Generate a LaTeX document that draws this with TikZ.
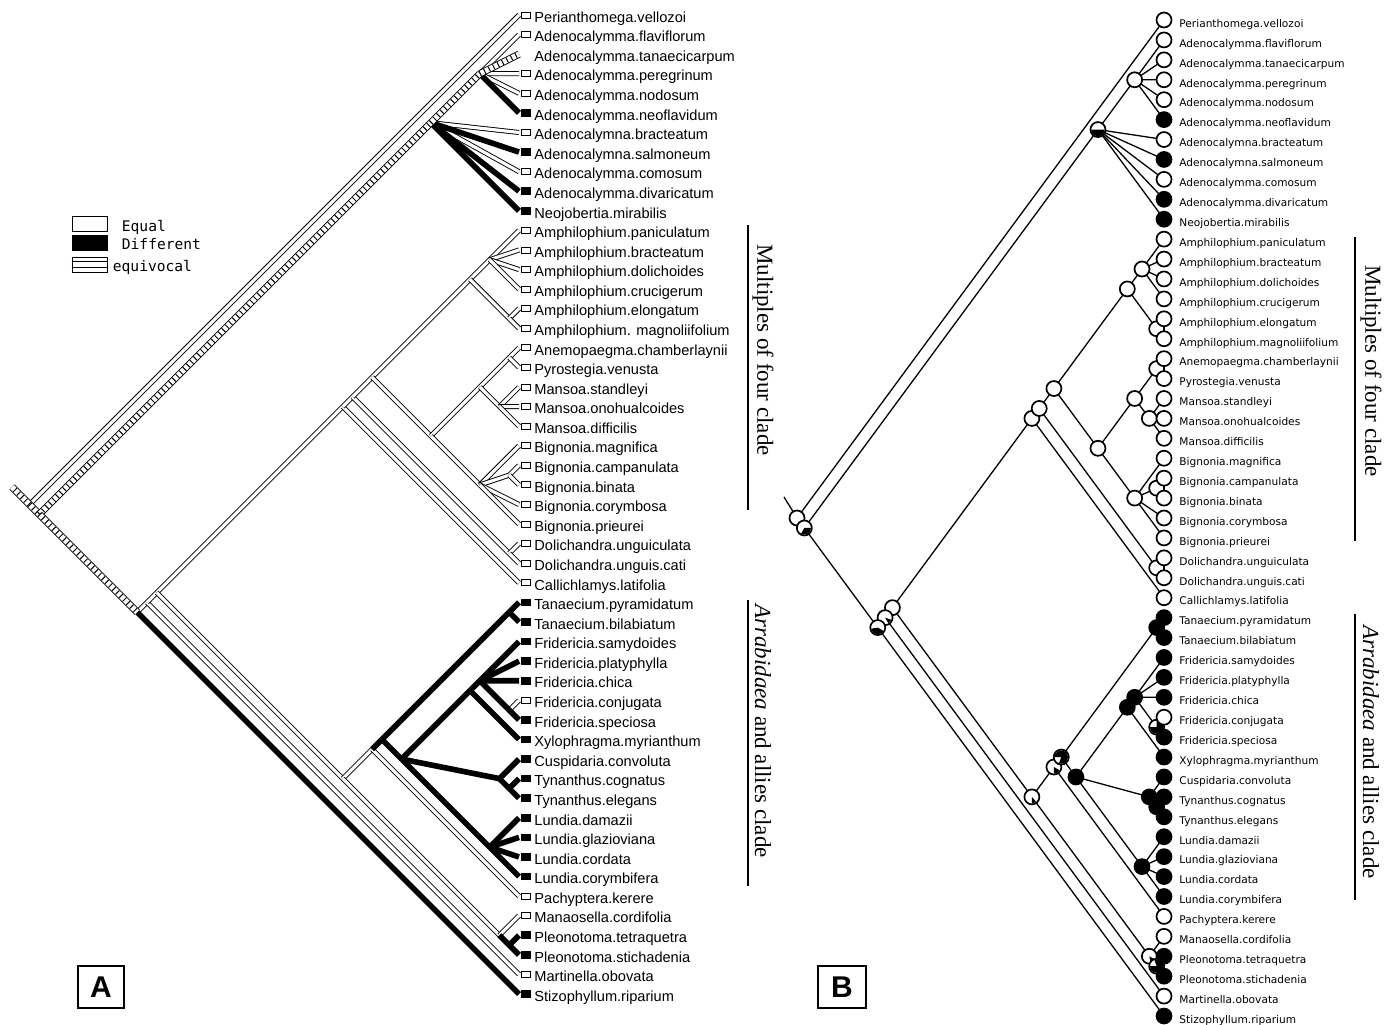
\documentclass[tikz,border=0pt]{standalone}
\usepackage{fontspec}
\usetikzlibrary{positioning}
\newfontfamily\tipfontA{Liberation Sans}
\newfontfamily\tipfontB{DejaVu Sans}
\newfontfamily\cladefont{Liberation Serif}
\newfontfamily\keyfont{DejaVu Sans Mono}
\tikzset{
  % branch bands of tree A
  Eq/.style={draw=black,double=white,double distance=1.6pt,line width=0.45pt},
  Df/.style={draw=black,line width=2.8pt},
  Ev/.style={draw=black,line width=2.7pt,dash pattern=on 0.5pt off 2pt,
             preaction={draw,solid,black,line width=3.6pt},
             preaction={draw,solid,white,line width=2.7pt}},
  % plain branches of tree B
  Ln/.style={draw=black,line width=0.65pt},
  % tip squares (A) and circles (B)
  Sqw/.style={rectangle,draw,line width=0.45pt,fill=white,inner sep=0pt,
              minimum width=4.8pt,minimum height=3pt},
  Sqb/.style={rectangle,fill=black,inner sep=0pt,
              minimum width=5pt,minimum height=3.8pt},
  Sqn/.style={inner sep=0pt},
  Nw/.style={circle,draw,line width=0.85pt,fill=white,inner sep=0pt,minimum size=7.5pt},
  Nb/.style={circle,draw,line width=0.85pt,fill=black,inner sep=0pt,minimum size=7.5pt},
  % texts
  TipA/.style={anchor=west,inner sep=0pt,text height=0.72em,text depth=0pt,
               font=\tipfontA\fontsize{7.3pt}{8pt}\selectfont},
  TipB/.style={anchor=west,inner sep=0pt,text height=0.73em,text depth=0pt,
               font=\tipfontB\fontsize{5.3pt}{6pt}\selectfont},
  Clade/.style={rotate=-90,inner sep=0pt,font=\cladefont\fontsize{11.5pt}{12pt}\selectfont},
  Bar/.style={line width=1pt},
  Pnl/.style={draw,line width=1pt,inner sep=0pt,minimum height=21pt,
              font=\tipfontA\bfseries\fontsize{15pt}{15pt}\selectfont},
  KeyBox/.style={draw,line width=0.5pt,inner sep=0pt,minimum width=17.5pt,minimum height=7.5pt},
  KeyTxt/.style={inner sep=0pt,text height=0.73em,text depth=0pt,
                 font=\keyfont\fontsize{7.3pt}{8pt}\selectfont},
}
% slanted trees: clade #1 spans tips #2..#3
\newcommand{\cladeA}[3]{\coordinate (A#1) at ({519-(#3-#2)*9.79},{15+(#2+#3-2)*9.79});}
\newcommand{\cladeB}[3]{\coordinate (B#1) at ({1164-(#3-#2)*7.34},{20+(#2+#3-2)*9.96});}
% pie at a node of tree B, black from #2 to #3 degrees
\newcommand{\pieB}[3]{\node[Nw] (cB#1) at (B#1) {};
  \fill (B#1) -- ++(#2:3.3pt) arc[start angle=#2,end angle=#3,radius=3.3pt] -- cycle;}
% branches by state (parent/child)
\def\EqList{root/t1, N26/t2, N26/t4, N26/t5, Ad/t7, Ad/t9, Y/N1250, N1250/t50,
  N1250/N1249, N1249/M, N1249/N3149, M/t30, M/N1229, N1229/N2829, N2829/t28,
  N2829/t29, N1229/N1227, N1227/Am, N1227/N1827, Am/N1215, Am/N1617, N1215/t12,
  N1215/t13, N1215/t14, N1215/t15, N1617/t16, N1617/t17, N1827/N1822, N1827/Bg,
  N1822/N1819, N1822/N2022, N1819/t18, N1819/t19, N2022/t20, N2022/t21, N2022/t22,
  Bg/t23, Bg/N2425, Bg/t26, Bg/t27, N2425/t24, N2425/t25, N3149/N3146, N3149/N4749,
  N3146/t46, N4749/t47, N3637/t36}
\def\DfList{N26/t6, Ad/t8, Ad/t10, Ad/t11, Y/t51, N3146/Ar, Ar/N3132, N3132/t31,
  N3132/t32, Ar/N3345, N3345/N3338, N3345/N3941, N3345/N4245, N3338/N3337,
  N3338/t38, N3337/t33, N3337/t34, N3337/t35, N3337/N3637, N3637/t37, N3941/t39,
  N3941/N4041, N4041/t40, N4041/t41, N4245/t42, N4245/t43, N4245/t44, N4245/t45,
  N4749/N4849, N4849/t48, N4849/t49}
\def\EvList{root/stem, root/X, X/Ad, Ad/N26, X/Y, N26/t3}

\begin{document}
\begin{tikzpicture}[x=0.5pt,y=-0.5pt]
  \useasboundingbox (0,0) rectangle (1395,1024);

  % tips and inner nodes
  \foreach \i in {1,...,51} {
    \coordinate (At\i) at (519,{15+(\i-1)*19.58});
    \coordinate (Bt\i) at (1164,{20+(\i-1)*19.92});
  }
  \foreach \n/\i/\j in {root/1/51, X/2/51, Ad/2/11, N26/2/6, Y/12/51, N1250/12/50,
      N1249/12/49, M/12/30, N1229/12/29, N1227/12/27, Am/12/17, N1215/12/15,
      N1617/16/17, N1827/18/27, N1822/18/22, N1819/18/19, N2022/20/22, Bg/23/27,
      N2425/24/25, N2829/28/29, N3149/31/49, N3146/31/46, Ar/31/45, N3132/31/32,
      N3345/33/45, N3338/33/38, N3337/33/37, N3637/36/37, N3941/39/41, N4041/40/41,
      N4245/42/45, N4749/47/49, N4849/48/49}
    {\cladeA{\n}{\i}{\j}\cladeB{\n}{\i}{\j}}
  \coordinate (Astem) at (12,487);
  \coordinate (Bstem) at (784,497);

  % ---- panel A ----
  \foreach \p/\c in \EqList {\draw[Eq] (A\p) -- (A\c);}
  \foreach \p/\c in \DfList {\draw[Df] (A\p) -- (A\c);}
  \foreach \p/\c in \EvList {\draw[Ev] (A\p) -- (A\c);}

  \foreach \i/\s/\tx in {1/w/Perianthomega.vellozoi, 2/w/Adenocalymma.flaviflorum,
      3/n/Adenocalymma.tanaecicarpum, 4/w/Adenocalymma.peregrinum,
      5/w/Adenocalymma.nodosum, 6/b/Adenocalymma.neoflavidum,
      7/w/Adenocalymna.bracteatum, 8/b/Adenocalymna.salmoneum,
      9/w/Adenocalymma.comosum, 10/b/Adenocalymma.divaricatum,
      11/b/Neojobertia.mirabilis, 12/w/Amphilophium.paniculatum,
      13/w/Amphilophium.bracteatum, 14/w/Amphilophium.dolichoides,
      15/w/Amphilophium.crucigerum, 16/w/Amphilophium.elongatum,
      17/w/Amphilophium. magnoliifolium, 18/w/Anemopaegma.chamberlaynii,
      19/w/Pyrostegia.venusta, 20/w/Mansoa.standleyi, 21/w/Mansoa.onohualcoides,
      22/w/Mansoa.difficilis, 23/w/Bignonia.magnifica, 24/w/Bignonia.campanulata,
      25/w/Bignonia.binata, 26/w/Bignonia.corymbosa, 27/w/Bignonia.prieurei,
      28/w/Dolichandra.unguiculata, 29/w/Dolichandra.unguis.cati,
      30/w/Callichlamys.latifolia, 31/b/Tanaecium.pyramidatum,
      32/b/Tanaecium.bilabiatum, 33/b/Fridericia.samydoides,
      34/b/Fridericia.platyphylla, 35/b/Fridericia.chica, 36/w/Fridericia.conjugata,
      37/b/Fridericia.speciosa, 38/b/Xylophragma.myrianthum,
      39/b/Cuspidaria.convoluta, 40/b/Tynanthus.cognatus, 41/b/Tynanthus.elegans,
      42/b/Lundia.damazii, 43/b/Lundia.glazioviana, 44/b/Lundia.cordata,
      45/b/Lundia.corymbifera, 46/w/Pachyptera.kerere, 47/w/Manaosella.cordifolia,
      48/b/Pleonotoma.tetraquetra, 49/b/Pleonotoma.stichadenia,
      50/w/Martinella.obovata, 51/b/Stizophyllum.riparium} {
    \node[Sq\s] (sA\i) at ([xshift=3.5pt]At\i) {};
    \node[TipA] (lA\i) at ([xshift=7.5pt]At\i) {\tx};
  }

  % legend
  \node[KeyBox,fill=white] (kEq) at (89.5,224) {};
  \node[KeyTxt,right=7pt of kEq] (tEq) {Equal};
  \node[KeyBox,fill=black] (kDf) at (89.5,242.5) {};
  \node[KeyTxt,right=7pt of kDf] (tDf) {Different};
  \node[KeyBox,fill=white] (kEv) at (89.5,264.5) {};
  \draw[line width=0.5pt] ([yshift=1.3pt]kEv.west) -- ([yshift=1.3pt]kEv.east);
  \draw[line width=0.5pt] ([yshift=-1.3pt]kEv.west) -- ([yshift=-1.3pt]kEv.east);
  \node[KeyTxt,right=2.5pt of kEv] (tEv) {equivocal};

  % clade bars A
  \coordinate (mA1) at (748,225); \coordinate (mA2) at (748,510);
  \coordinate (rA1) at (748,600); \coordinate (rA2) at (748,886);
  \draw[Bar] (mA1) -- (mA2);
  \draw[Bar] (rA1) -- (rA2);
  \node[Clade] (multA) at (763,350) {Multiples of four clade};
  \node[Clade] (arrA) at (763,731) {{\itshape Arrabidaea} and allies clade};
  \node[Pnl,minimum width=23pt] (pA) at (101,987) {A};

  % ---- panel B ----
  \foreach \p/\c in \EqList {\draw[Ln] (B\p) -- (B\c);}
  \foreach \p/\c in \DfList {\draw[Ln] (B\p) -- (B\c);}
  \foreach \p/\c in \EvList {\draw[Ln] (B\p) -- (B\c);}

  \foreach \n in {N26, N1249, M, N1229, N1227, Am, N1215, N1617, N1827, N1822,
      N1819, N2022, Bg, N2425, N2829, root}
    {\node[Nw] (cB\n) at (B\n) {};}
  \pieB{N1250}{-60}{-20}
  \pieB{Y}{190}{330}
  \pieB{X}{-120}{0}
  \pieB{Ad}{180}{360}
  \pieB{N3149}{-90}{-50}
  \pieB{N3146}{-90}{-30}
  \pieB{Ar}{250}{540}
  \foreach \n in {N3132, N3345, N3338, N3337, N3941, N4041, N4245}
    {\node[Nb] (cB\n) at (B\n) {};}
  \pieB{N3637}{180}{450}
  \pieB{N4749}{-80}{-30}
  \pieB{N4849}{180}{470}

  \foreach \i/\s/\tx in {1/w/Perianthomega.vellozoi, 2/w/Adenocalymma.flaviflorum,
      3/w/Adenocalymma.tanaecicarpum, 4/w/Adenocalymma.peregrinum,
      5/w/Adenocalymma.nodosum, 6/b/Adenocalymma.neoflavidum,
      7/w/Adenocalymna.bracteatum, 8/b/Adenocalymna.salmoneum,
      9/w/Adenocalymma.comosum, 10/b/Adenocalymma.divaricatum,
      11/b/Neojobertia.mirabilis, 12/w/Amphilophium.paniculatum,
      13/w/Amphilophium.bracteatum, 14/w/Amphilophium.dolichoides,
      15/w/Amphilophium.crucigerum, 16/w/Amphilophium.elongatum,
      17/w/Amphilophium.magnoliifolium, 18/w/Anemopaegma.chamberlaynii,
      19/w/Pyrostegia.venusta, 20/w/Mansoa.standleyi, 21/w/Mansoa.onohualcoides,
      22/w/Mansoa.difficilis, 23/w/Bignonia.magnifica, 24/w/Bignonia.campanulata,
      25/w/Bignonia.binata, 26/w/Bignonia.corymbosa, 27/w/Bignonia.prieurei,
      28/w/Dolichandra.unguiculata, 29/w/Dolichandra.unguis.cati,
      30/w/Callichlamys.latifolia, 31/b/Tanaecium.pyramidatum,
      32/b/Tanaecium.bilabiatum, 33/b/Fridericia.samydoides,
      34/b/Fridericia.platyphylla, 35/b/Fridericia.chica, 36/w/Fridericia.conjugata,
      37/b/Fridericia.speciosa, 38/b/Xylophragma.myrianthum,
      39/b/Cuspidaria.convoluta, 40/b/Tynanthus.cognatus, 41/b/Tynanthus.elegans,
      42/b/Lundia.damazii, 43/b/Lundia.glazioviana, 44/b/Lundia.cordata,
      45/b/Lundia.corymbifera, 46/w/Pachyptera.kerere, 47/w/Manaosella.cordifolia,
      48/b/Pleonotoma.tetraquetra, 49/b/Pleonotoma.stichadenia,
      50/w/Martinella.obovata, 51/b/Stizophyllum.riparium} {
    \node[N\s] (cB\i) at (Bt\i) {};
    \node[TipB] (lB\i) at ([xshift=7.5pt]Bt\i) {\tx};
  }

  % clade bars B
  \coordinate (mB1) at (1355,237); \coordinate (mB2) at (1355,541);
  \coordinate (rB1) at (1355,614); \coordinate (rB2) at (1355,900);
  \draw[Bar] (mB1) -- (mB2);
  \draw[Bar] (rB1) -- (rB2);
  \node[Clade] (multB) at (1371,371) {Multiples of four clade};
  \node[Clade] (arrB) at (1371,752) {{\itshape Arrabidaea} and allies clade};
  \node[Pnl,minimum width=24pt] (pB) at (842,987) {B};
\end{tikzpicture}
\end{document}
